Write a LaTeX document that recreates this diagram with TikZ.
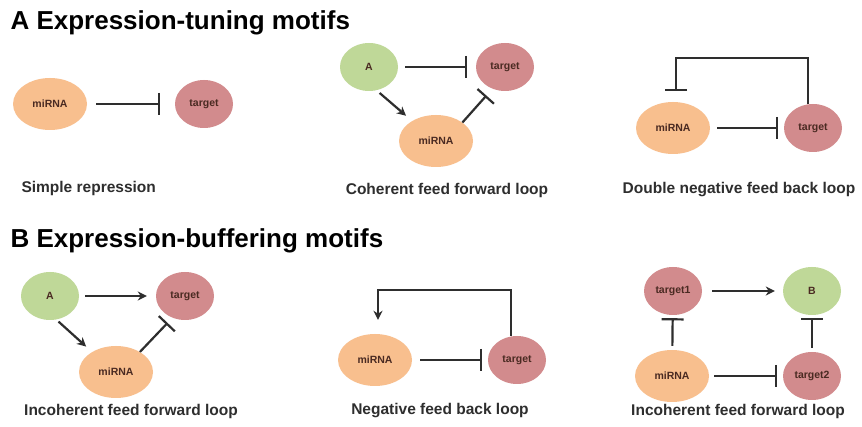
\documentclass[tikz,border=0pt]{standalone}
\usepackage{fontspec}
\setmainfont{Liberation Sans}
\usetikzlibrary{shapes.geometric, arrows.meta}

\definecolor{mirna}{HTML}{F8BF8E}
\definecolor{targ}{HTML}{D28B8D}
\definecolor{actv}{HTML}{BFD898}
\definecolor{ink}{HTML}{2E2E2E}
\definecolor{lbl}{HTML}{4A2A22}

\begin{document}
\begin{tikzpicture}[x = 1pt, y = -1pt,
	bub/.style = {ellipse, inner sep = 0pt, minimum width = 58pt, minimum height = 48pt, font = \fontsize{10.5}{12}\selectfont\bfseries, text = lbl},
	mir/.style = {bub, fill = mirna, minimum width = 74pt, minimum height = 52pt},
	tgt/.style = {bub, fill = targ},
	grn/.style = {bub, fill = actv},
	lnk/.style = {draw = ink, line width = 2.2pt},
	inh/.style = {lnk, -{Bar[width = 22pt]}},
	pro/.style = {lnk, -{Stealth[length = 9pt, width = 9pt]}},
	ttl/.style = {anchor = west, font = \fontsize{26}{28}\selectfont\bfseries},
	motif/.style = {font = \fontsize{15.5}{17}\selectfont\bfseries, text = ink}]%miRNA motifs
	\useasboundingbox[fill = white] (0,0) rectangle (862,427);

	\node[ttl] (TA) at (7,23) {A Expression-tuning motifs};
	\node[ttl] (TB) at (7,241) {B Expression-buffering motifs};

	\node[mir] (M1) at (50,104) {miRNA};
	\node[tgt] (T1) at (204,104) {target};
	\node[motif, anchor = west] (C1) at (18,188) {Simple repression};
	\draw[inh, shorten <= 9pt, shorten >= 15pt] (M1) -- (T1);

	\node[grn] (A2) at (369,67) {A};
	\node[tgt] (T2) at (505,67) {target};
	\node[mir] (M2) at (436,141) {miRNA};
	\node[motif] (C2) at (447,190) {Coherent feed forward loop};
	\draw[inh, shorten <= 7pt, shorten >= 9pt] (A2) -- (T2);
	\draw[pro, shorten <= 4pt, shorten >= 8pt] (A2.-72) -- (M2.140);
	\draw[inh, shorten >= 9pt] (M2.35) -- (T2.-120);

	\node[mir] (M3) at (673,128) {miRNA};
	\node[tgt] (T3) at (813,128) {target};
	\node[motif] (C3) at (739,190) {Double negative feed back loop};
	\draw[inh, shorten <= 7pt, shorten >= 6pt] (M3) -- (T3);
	\draw[inh, shorten >= 11pt] ([xshift = -5pt]T3.north) -- ++(0,-46) -| ([xshift = 3pt]M3.north);

	\node[grn] (A4) at (50,296) {A};
	\node[tgt] (T4) at (185,296) {target};
	\node[mir] (M4) at (116,372) {miRNA};
	\node[motif] (C4) at (131,411) {Incoherent feed forward loop};
	\draw[pro, shorten <= 6pt, shorten >= 9pt] (A4) -- (T4);
	\draw[pro, shorten <= 3pt, shorten >= 8pt] (A4.-75) -- (M4.140);
	\draw[inh, shorten >= 7pt] (M4.40) -- (T4.-120);

	\node[mir] (M5) at (375,360) {miRNA};
	\node[tgt] (T5) at (517,360) {target};
	\node[motif] (C5) at (440,411) {Negative feed back loop};
	\draw[inh, shorten <= 8pt, shorten >= 6pt] (M5) -- (T5);
	\draw[pro, shorten >= 14pt] ([xshift = -6pt]T5.north) -- ++(0,-46) -| ([xshift = 3pt]M5.north);

	\node[tgt] (T6) at (673,291) {target1};
	\node[grn] (B6) at (812,291) {B};
	\node[mir] (M6) at (672,376) {miRNA};
	\node[tgt] (T7) at (812,376) {target2};
	\node[motif] (C6) at (738,411) {Incoherent feed forward loop};
	\draw[pro, shorten <= 10pt, shorten >= 8pt] (T6) -- (B6);
	\draw[inh, shorten <= 4pt, shorten >= 3pt] (M6) -- (T6);
	\draw[inh, shorten <= 4pt, shorten >= 3pt] (T7) -- (B6);
	\draw[inh, shorten <= 5pt, shorten >= 6pt] (M6) -- (T7);
\end{tikzpicture}
\end{document}
